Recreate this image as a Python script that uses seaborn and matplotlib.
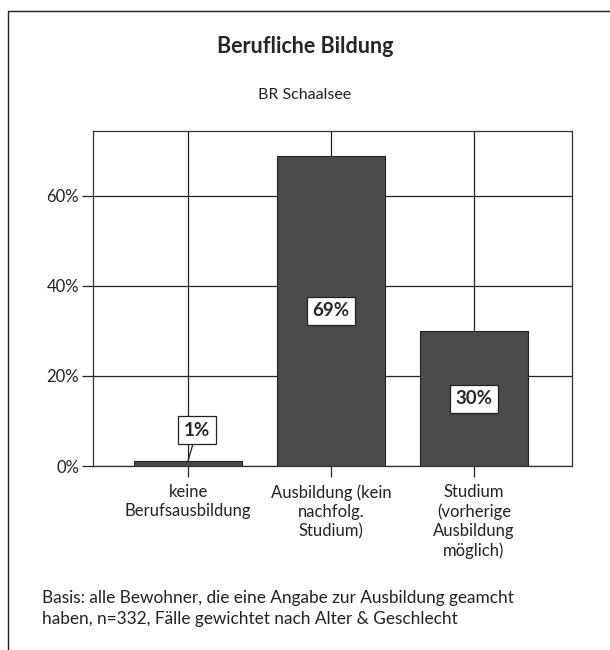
import matplotlib
matplotlib.use("Agg")
import matplotlib.pyplot as plt
from matplotlib.lines import Line2D
import pandas as pd
import seaborn as sns

categories = ["keine\nBerufsausbildung",
              "Ausbildung (kein\nnachfolg.\nStudium)",
              "Studium\n(vorherige\nAusbildung\nmöglich)"]
shares = [1.2, 68.9, 29.9]
y_ticks = [0, 20, 40, 60]

title = "Berufliche Bildung"
subtitle = "BR Schaalsee"
footnote = ["Basis: alle Bewohner, die eine Angabe zur Ausbildung geamcht",
            "haben, n=332, Fälle gewichtet nach Alter & Geschlecht"]

sns.set_theme(style="white")
plt.rcParams["font.family"] = ["Lato", "DejaVu Sans"]

df = pd.DataFrame({"cat": categories, "share": shares})

fig = plt.figure(figsize=(6.1, 6.5), dpi=100)
ax = fig.add_axes([0.1525, 0.283, 0.785, 0.5155])

sns.barplot(data=df, x="cat", y="share", color="#4b4b4b", saturation=1,
            edgecolor="#222222", linewidth=0.8, width=0.75, ax=ax)

ax.set_axisbelow(True)
ax.grid(True, color="#222222", linewidth=0.9)
ax.set_xlim(-0.665, 2.685)
ax.set_ylim(0, 74.4)
ax.set_yticks(y_ticks)
ax.set_yticklabels([f"{t}%" for t in y_ticks])
ax.set_xlabel("")
ax.set_ylabel("")
ax.tick_params(axis="both", direction="out", length=8, width=0.9,
               color="#222222", labelsize=12, labelcolor="#222222",
               left=True, bottom=True, pad=2)
ax.tick_params(axis="x", pad=5)
for lbl in ax.get_xticklabels():
    lbl.set_linespacing(1.25)
for s in ax.spines.values():
    s.set_color("#333333")
    s.set_linewidth(0.9)

box = dict(boxstyle="square,pad=0.3", facecolor="white", edgecolor="#222222", linewidth=0.9)
for i, v in enumerate(shares):
    txt = f"{round(v)}%"
    if v < 5:
        ax.annotate(txt, xy=(i, v), xytext=(i + 0.063, v + 6.8),
                    ha="center", va="center", fontsize=13.5, fontweight="bold",
                    bbox=box, arrowprops=dict(arrowstyle="-", color="#222222", lw=0.9,
                                              shrinkA=0, shrinkB=0))
    else:
        ax.text(i, v / 2, txt, ha="center", va="center", fontsize=13.5,
                fontweight="bold", bbox=box)

fig.text(0.5, 0.929, title, ha="center", va="center", fontsize=15.5, fontweight="bold")
fig.text(0.5, 0.854, subtitle, ha="center", va="center", fontsize=11.5, color="#222222")
for k, line in enumerate(footnote):
    fig.text(0.069, 1 - (598 + 21 * k) / 650, line, ha="left", va="center",
             fontsize=12.4, color="#222222")

fig.add_artist(Line2D([8 / 610, 8 / 610], [0, 1 - 11 / 650], transform=fig.transFigure,
                      color="#222222", linewidth=1.0))
fig.add_artist(Line2D([8 / 610, 1], [1 - 11 / 650, 1 - 11 / 650], transform=fig.transFigure,
                      color="#222222", linewidth=1.0))

fig.savefig("out.png", dpi=100)
